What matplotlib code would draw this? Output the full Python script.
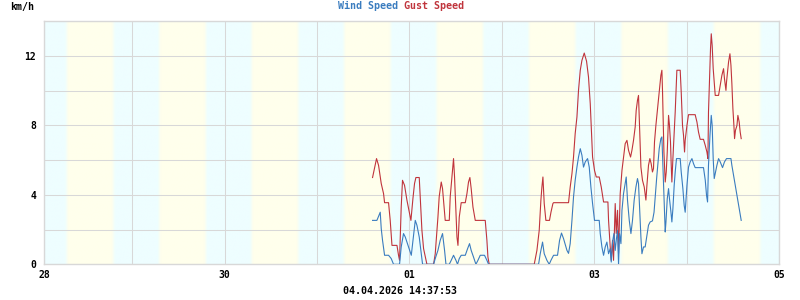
import numpy as np
import matplotlib
matplotlib.use("Agg")
import matplotlib.pyplot as plt
from matplotlib.ticker import MultipleLocator, FixedLocator

# x = days since 28.03.2026 00:00, y = km/h
gust_t = [3.601, 3.644, 3.666, 3.695, 3.720, 3.731, 3.774, 3.792, 3.811, 3.865,
          3.882, 3.893, 3.911, 3.925, 3.947, 3.973, 3.998, 4.016, 4.038, 4.055,
          4.070, 4.106, 4.117, 4.135, 4.153, 4.179, 4.189, 4.261, 4.279, 4.308,
          4.322, 4.344, 4.358, 4.369, 4.387, 4.431, 4.441, 4.460, 4.477, 4.488,
          4.503, 4.514, 4.525, 4.539, 4.560, 4.604, 4.622, 4.639, 4.654, 4.668,
          4.687, 4.712, 4.820, 4.838, 4.849, 4.863, 5.350, 5.379, 5.404, 5.422,
          5.433, 5.444, 5.458, 5.476, 5.515, 5.531, 5.552, 5.559, 5.721, 5.739,
          5.758, 5.775, 5.793, 5.812, 5.829, 5.848, 5.866, 5.891, 5.916, 5.937,
          5.956, 5.967, 5.981, 6.002, 6.021, 6.053, 6.075, 6.100, 6.147, 6.154,
          6.172, 6.183, 6.197, 6.208, 6.226, 6.237, 6.251, 6.262, 6.280, 6.299,
          6.316, 6.334, 6.353, 6.370, 6.392, 6.407, 6.424, 6.442, 6.453, 6.467,
          6.478, 6.489, 6.504, 6.521, 6.540, 6.558, 6.569, 6.586, 6.601, 6.615,
          6.629, 6.640, 6.651, 6.666, 6.684, 6.702, 6.720, 6.731, 6.738, 6.753,
          6.767, 6.778, 6.789, 6.803, 6.813, 6.824, 6.832, 6.839, 6.850, 6.864,
          6.875, 6.886, 6.893, 6.929, 6.940, 6.954, 6.965, 6.976, 6.983, 7.002,
          7.019, 7.091, 7.110, 7.127, 7.145, 7.181, 7.200, 7.218, 7.229, 7.235,
          7.246, 7.257, 7.265, 7.275, 7.286, 7.300, 7.308, 7.344, 7.362, 7.380,
          7.398, 7.408, 7.424, 7.430, 7.441, 7.452, 7.467, 7.478, 7.488, 7.499,
          7.510, 7.517, 7.527, 7.543, 7.553, 7.567, 7.578, 7.589]
gust_v = [5.0, 6.09, 5.7, 4.65, 4.07, 3.55, 3.55, 2.53, 1.09, 1.09,
          0.52, 0.23, 3.3, 4.84, 4.55, 3.69, 3.0, 2.53, 3.8, 4.65,
          5.0, 5.0, 3.88, 1.96, 0.9, 0.23, 0.0, 0.0, 0.6, 2.7,
          3.9, 4.74, 4.36, 3.69, 2.53, 2.53, 3.88, 5.03, 6.09, 5.03,
          3.11, 1.57, 1.09, 2.72, 3.55, 3.55, 4.07, 4.74, 5.0, 4.36,
          3.3, 2.53, 2.53, 1.38, 0.42, 0.0, 0.0, 0.8, 1.96, 3.69,
          4.45, 5.03, 3.5, 2.53, 2.53, 3.0, 3.5, 3.55, 3.55, 4.45,
          5.22, 6.18, 7.53, 8.49, 10.02, 11.18, 11.75, 12.17, 11.7, 10.79,
          9.25, 7.9, 6.18, 5.41, 5.03, 5.03, 4.45, 3.59, 3.59, 2.53,
          1.0, 0.23, 1.38, 0.23, 3.5, 1.78, 3.11, 0.63, 4.07, 5.41,
          6.18, 6.95, 7.14, 6.57, 6.18, 6.57, 7.14, 7.91, 8.87, 9.45,
          9.73, 7.91, 5.6, 4.84, 4.45, 3.7, 4.55, 5.7, 6.09, 5.8,
          5.32, 5.51, 7.05, 8.0, 8.97, 9.93, 10.89, 11.18, 9.93, 6.47,
          4.74, 5.32, 6.47, 8.58, 8.0, 7.05, 5.7, 4.74, 6.09, 7.62,
          8.77, 10.31, 11.18, 11.18, 9.93, 8.0, 7.43, 6.47, 7.14, 8.0,
          8.62, 8.62, 8.2, 7.62, 7.2, 7.2, 6.85, 6.47, 6.09, 8.77,
          10.69, 12.42, 13.28, 12.6, 11.27, 10.31, 9.73, 9.73, 10.31, 10.89,
          11.27, 10.69, 10.02, 10.5, 11.08, 11.65, 12.13, 11.46, 10.41, 8.97,
          8.0, 7.24, 7.72, 8.0, 8.58, 8.2, 7.62, 7.24]

wind_t = [3.601, 3.648, 3.684, 3.695, 3.709, 3.731, 3.774, 3.803, 3.828, 3.893,
          3.911, 3.936, 3.955, 3.990, 4.020, 4.038, 4.063, 4.081, 4.106, 4.128,
          4.142, 4.261, 4.279, 4.308, 4.333, 4.358, 4.380, 4.395, 4.431, 4.452,
          4.477, 4.503, 4.520, 4.539, 4.560, 4.604, 4.629, 4.650, 4.668, 4.693,
          4.719, 4.741, 4.766, 4.812, 4.838, 4.856, 5.397, 5.415, 5.440, 5.458,
          5.487, 5.512, 5.531, 5.559, 5.602, 5.624, 5.645, 5.667, 5.704, 5.721,
          5.739, 5.758, 5.775, 5.793, 5.812, 5.829, 5.848, 5.866, 5.883, 5.902,
          5.927, 5.945, 5.963, 5.981, 6.002, 6.053, 6.064, 6.082, 6.100, 6.118,
          6.136, 6.154, 6.172, 6.183, 6.197, 6.212, 6.226, 6.237, 6.251, 6.262,
          6.273, 6.288, 6.299, 6.316, 6.334, 6.345, 6.359, 6.378, 6.396, 6.413,
          6.431, 6.450, 6.467, 6.478, 6.489, 6.504, 6.515, 6.532, 6.550, 6.569,
          6.586, 6.604, 6.629, 6.646, 6.660, 6.674, 6.690, 6.702, 6.720, 6.731,
          6.742, 6.756, 6.767, 6.775, 6.789, 6.803, 6.813, 6.829, 6.839, 6.850,
          6.864, 6.875, 6.889, 6.929, 6.940, 6.958, 6.972, 6.983, 7.002, 7.019,
          7.037, 7.056, 7.073, 7.091, 7.181, 7.200, 7.214, 7.225, 7.235, 7.251,
          7.265, 7.275, 7.286, 7.297, 7.308, 7.326, 7.344, 7.362, 7.387, 7.408,
          7.430, 7.478, 7.488, 7.506, 7.524, 7.543, 7.560, 7.578, 7.589]
wind_v = [2.53, 2.53, 3.0, 2.05, 1.38, 0.52, 0.52, 0.33, 0.0, 0.0,
          1.0, 1.77, 1.57, 1.0, 0.52, 1.38, 2.53, 2.25, 1.57, 0.61,
          0.0, 0.0, 0.33, 0.8, 1.38, 1.77, 0.8, 0.0, 0.0, 0.23,
          0.52, 0.23, 0.0, 0.33, 0.52, 0.52, 0.9, 1.19, 0.8, 0.42,
          0.0, 0.23, 0.52, 0.52, 0.23, 0.0, 0.0, 0.61, 1.28, 0.61,
          0.23, 0.0, 0.23, 0.52, 0.52, 1.38, 1.8, 1.48, 0.8, 0.63,
          1.19, 2.53, 3.88, 4.84, 5.6, 6.18, 6.66, 6.28, 5.6, 5.9,
          6.09, 5.6, 4.45, 3.5, 2.53, 2.53, 1.77, 1.0, 0.52, 1.0,
          1.28, 0.61, 0.9, 0.13, 1.28, 1.77, 0.8, 1.38, 1.96, 0.0,
          1.77, 1.19, 3.11, 4.07, 4.65, 5.03, 3.69, 2.53, 1.77, 2.53,
          3.69, 4.45, 4.94, 4.65, 3.3, 1.57, 0.61, 1.0, 1.0, 1.67,
          2.25, 2.44, 2.5, 3.0, 3.97, 4.94, 5.9, 6.66, 7.24, 7.34,
          5.7, 3.59, 1.86, 2.44, 3.78, 4.36, 3.78, 3.0, 2.44, 3.2,
          4.55, 5.32, 6.09, 6.09, 5.32, 4.36, 3.4, 3.0, 4.55, 5.6,
          5.9, 6.09, 5.8, 5.57, 5.57, 4.85, 3.97, 3.59, 5.7, 7.43,
          8.58, 8.0, 6.09, 4.94, 5.22, 5.7, 6.09, 5.9, 5.57, 5.9,
          6.09, 6.09, 5.7, 5.13, 4.55, 3.97, 3.4, 2.82, 2.53]

date_ticks = [0.05, 2, 4, 6, 8]
date_labels = ["28", "30", "01", "03", "05"]
y_ticks = [0, 4, 8, 12]
sunrise, sunset = 0.295, 0.80   # fraction of day

wind_col = "#3a7cbf"
gust_col = "#c0343c"
grid_col = "#d8d8d8"
mono = {"family": "DejaVu Sans Mono", "weight": "bold", "size": 7.2}

fig = plt.figure(figsize=(8, 3), dpi=100)
ax = fig.add_axes([44.3 / 800, 35.7 / 300, 734.9 / 800, 243 / 300])

# day / night background
x0, x1 = date_ticks[0], date_ticks[-1]
tt = np.linspace(x0, x1, 3000)
frac = tt % 1
w = 0.035
light = np.clip((frac - sunrise) / w + 0.5, 0, 1) * np.clip((sunset - frac) / w + 0.5, 0, 1)
night_c = np.array([238, 254, 255]) / 255
day_c = np.array([255, 255, 236]) / 255
img = night_c[None, :] * (1 - light[:, None]) + day_c[None, :] * light[:, None]
ax.imshow(img[None, :, :], extent=[x0, x1, 0, 14], aspect="auto",
          interpolation="bilinear", zorder=0)

ax.plot(gust_t, gust_v, color=gust_col, lw=0.8, zorder=3)
ax.plot(wind_t, wind_v, color=wind_col, lw=0.8, zorder=4)

ax.set_xlim(x0, x1)
ax.set_ylim(0, 14)
ax.xaxis.set_major_locator(FixedLocator(date_ticks))
ax.xaxis.set_minor_locator(FixedLocator(range(1, 8)))
ax.set_xticklabels(date_labels)
ax.yaxis.set_major_locator(FixedLocator(y_ticks))
ax.yaxis.set_minor_locator(MultipleLocator(2))
ax.grid(which="both", color=grid_col, lw=0.75)
ax.tick_params(which="both", length=0)
ax.tick_params(axis="x", pad=4)
ax.tick_params(axis="y", pad=6)
for lab in ax.get_xticklabels() + ax.get_yticklabels():
    lab.set_fontfamily(mono["family"])
    lab.set_fontweight("bold")
    lab.set_fontsize(7)
for s in ax.spines.values():
    s.set_color(grid_col)
    s.set_linewidth(1.0)

fig.text(10 / 800, 1 - 7 / 300, "km/h", ha="left", va="center", color="black", **mono)
fig.text(338 / 800, 1 - 6 / 300, "Wind Speed", ha="left", va="center", color=wind_col, **mono)
fig.text(404 / 800, 1 - 6 / 300, "Gust Speed", ha="left", va="center", color=gust_col, **mono)
fig.text(0.5, 1 - 291 / 300, "04.04.2026 14:37:53", ha="center", va="center", color="black", **mono)

fig.savefig("out.png", dpi=100)
